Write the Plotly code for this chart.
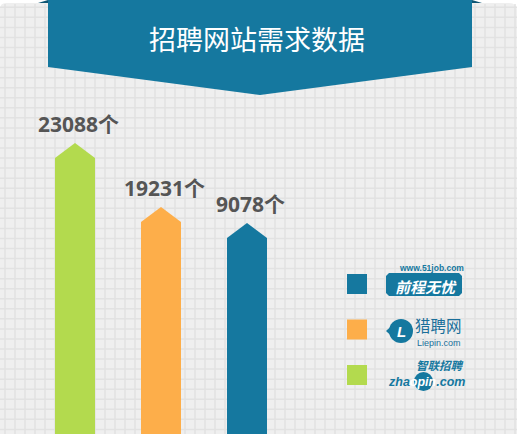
import plotly.graph_objects as go

# ---------------- data ----------------
sites = ["智联招聘", "猎聘网", "前程无忧"]
demand = [23088, 19231, 9078]          # label values
bar_heights = [291, 227, 211]          # drawn bar heights (apex), as seen in picture
bar_colors = ["#B3DA4E", "#FDAE4A", "#15789F"]
label_suffix = "个"
title_text = "招聘网站需求数据"

# ---------------- geometry / style ----------------
W, H = 520, 434
BAR_W = 40 / 86        # bar width in axis units
TIP = 15               # height of the arrow tip (y units)
X_RANGE = [-75 / 86, 445 / 86]
BLUE = "#15789F"


def px(x):
    return x / W


def py(y):
    return 1 - y / H


def path(points, close=True):
    s = "M " + " L ".join(f"{px(x):.5f},{py(y):.5f}" for x, y in points)
    return s + (" Z" if close else "")


def note(x, y, text, family, size, color, yanchor="middle"):
    return dict(x=px(x), y=py(y), xref="paper", yref="paper",
                xanchor="center", yanchor=yanchor, showarrow=False,
                borderpad=0,
                text=text, font=dict(family=family, size=size, color=color))


fig = go.Figure()

# bars with arrow tips
for i, (h, c) in enumerate(zip(bar_heights, bar_colors)):
    x0, x1 = i - BAR_W / 2, i + BAR_W / 2
    xs = [x0, x0, i, x1, x1, x0]
    ys = [0, h - TIP, h, h - TIP, 0, 0]
    fig.add_trace(go.Scatter(x=xs, y=ys, mode="lines", fill="toself",
                             fillcolor=c, line=dict(width=0, color=c),
                             hoverinfo="skip", showlegend=False))

annotations = []
# value labels
for i, (v, h) in enumerate(zip(demand, bar_heights)):
    annotations.append(dict(
        x=i, y=h, xref="x", yref="y", xanchor="center", yanchor="bottom",
        xshift=3, yshift=3, showarrow=False,
        text=f"<b>{v}{label_suffix}</b>",
        font=dict(family="Open Sans, Noto Sans CJK SC", size=21, color="#555555")))

# title
annotations.append(note(257, 38.5, title_text, "Noto Sans CJK SC", 27, "white"))

shapes = []
# card background with rounded top corners
r = 8
card = (f"M {px(0)},{py(440)} L {px(0)},{py(3 + 6)} Q {px(0)},{py(3)} {px(6)},{py(3)} "
        f"L {px(517 - r)},{py(3)} Q {px(517)},{py(3)} {px(517)},{py(3 + r)} "
        f"L {px(517)},{py(440)} Z")
shapes.append(dict(type="path", path=card, xref="paper", yref="paper",
                   fillcolor="#EFEFEF", line=dict(width=0), layer="below"))
# grid
gx = 5
while gx <= 516:
    shapes.append(dict(type="line", xref="paper", yref="paper",
                       x0=px(gx), x1=px(gx), y0=py(4), y1=py(440),
                       line=dict(color="#E2E2E2", width=1.5), layer="below"))
    gx += 10
gy = 7.3
while gy <= 440:
    shapes.append(dict(type="line", xref="paper", yref="paper",
                       x0=px(0), x1=px(517), y0=py(gy), y1=py(gy),
                       line=dict(color="#E2E2E2", width=1.5), layer="below"))
    gy += 10.05

# banner
shapes.append(dict(type="path", xref="paper", yref="paper", layer="below",
                   path=path([(48, 0), (472, 0), (472, 67), (260, 95), (48, 67)]),
                   fillcolor=BLUE, line=dict(width=0)))
shapes.append(dict(type="path", xref="paper", yref="paper", layer="below",
                   path=path([(38, 3), (48, 0), (48, 3)]),
                   fillcolor="#0E5674", line=dict(width=0)))
shapes.append(dict(type="path", xref="paper", yref="paper", layer="below",
                   path=path([(472, 0), (482, 3), (472, 3)]),
                   fillcolor="#0E5674", line=dict(width=0)))

# legend squares (top to bottom: 前程无忧, 猎聘网, 智联招聘)
for j, idx in enumerate([2, 1, 0]):
    top = 274 + 45.5 * j
    shapes.append(dict(type="rect", xref="paper", yref="paper", layer="below",
                       x0=px(347), x1=px(367), y0=py(top), y1=py(top + 20),
                       fillcolor=bar_colors[idx], line=dict(width=0)))

# --- 前程无忧 logo (text version)
shapes.append(dict(type="path", xref="paper", yref="paper", layer="below",
                   path=path([(386, 276), (389, 273), (459, 273), (462, 276),
                              (462, 293), (459, 296), (389, 296), (386, 293)]),
                   fillcolor=BLUE, line=dict(width=0)))
annotations.append(note(426, 286, "<b><i>前程无忧</i></b>", "Noto Sans CJK SC", 15, "white"))
annotations.append(note(431, 267.5, "<b>www.51job.com</b>", "Liberation Sans", 8.5, BLUE))

# --- 猎聘网 logo
shapes.append(dict(type="circle", xref="paper", yref="paper", layer="below",
                   x0=px(389), x1=px(413), y0=py(319), y1=py(343),
                   fillcolor=BLUE, line=dict(width=0)))
shapes.append(dict(type="path", xref="paper", yref="paper", layer="below",
                   path=path([(386, 331), (398, 320), (398, 342)]),
                   fillcolor=BLUE, line=dict(width=0)))
annotations.append(note(401, 331, "<b><i>L</i></b>", "Liberation Sans", 15, "white"))
annotations.append(note(438.5, 337, "猎聘网", "Noto Sans CJK SC", 15.5, "#1A6F9A",
                        yanchor="bottom"))
annotations.append(note(438.5, 336.5, "Liepin.com", "Liberation Sans", 9, "#1A6F9A",
                        yanchor="top"))

# --- 智联招聘 logo
shapes.append(dict(type="circle", xref="paper", yref="paper", layer="below",
                   x0=px(414), x1=px(433), y0=py(372), y1=py(391),
                   fillcolor=BLUE, line=dict(width=0)))
annotations.append(note(440, 374, "<b><i>智联招聘</i></b>", "Noto Sans CJK SC", 11.5, BLUE,
                        yanchor="bottom"))
annotations.append(note(426, 373.5,
                        ("<b><i><span style='color:#15789F'>zha</span>"
                         "<span style='color:white'>opin</span>"
                         "<span style='color:#15789F'>.com</span></i></b>"),
                        "Liberation Sans", 12.5, BLUE, yanchor="top"))

fig.update_layout(
    width=W, height=H, margin=dict(l=0, r=0, t=0, b=0, pad=0),
    paper_bgcolor="white", plot_bgcolor="rgba(0,0,0,0)",
    xaxis=dict(visible=False, range=X_RANGE, fixedrange=True),
    yaxis=dict(visible=False, range=[0, H], fixedrange=True),
    showlegend=False, shapes=shapes, annotations=annotations,
)

fig.write_html("out.html", config={"displayModeBar": False},
               post_script="document.body.style.margin='0';document.body.style.overflow='hidden';")
